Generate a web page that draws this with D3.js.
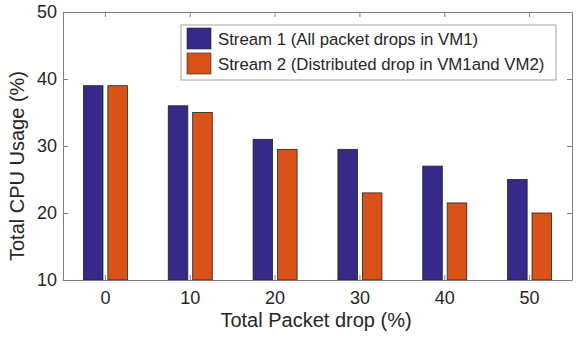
<!DOCTYPE html>
<html>
<head>
<meta charset="utf-8">
<script src="https://cdn.jsdelivr.net/npm/d3@7"></script>
<style>
  body { margin: 0; background: #fff; }
  text { font-family: "Liberation Sans", Arial, sans-serif; fill: #262626; }
</style>
</head>
<body>
<div id="chart"></div>
<script>
// chart data
const drops = ["0", "10", "20", "30", "40", "50"];
const stream1 = [39, 36, 31, 29.5, 27, 25];
const stream2 = [39, 35, 29.5, 23, 21.5, 20];
const yTicks = [10, 20, 30, 40, 50];
const seriesNames = ["Stream 1 (All packet drops in VM1)", "Stream 2 (Distributed drop in VM1and VM2)"];
const colors = ["#352a87", "#d95319"];

const svgWidth = 581;
const svgHeight = 338;
const margin = { top: 12, right: 9, bottom: 58, left: 63 };
const width = svgWidth - margin.left - margin.right;
const height = svgHeight - margin.top - margin.bottom;

const svg = d3.select("#chart").append("svg")
  .attr("width", svgWidth)
  .attr("height", svgHeight);

const g = svg.append("g")
  .attr("transform", `translate(${margin.left},${margin.top})`);

const x = d3.scaleBand().domain(drops).range([0, width]).padding(0);
const y = d3.scaleLinear().domain([10, 50]).range([height, 0]);
// two bars per group, small gap between them
const inner = d3.scaleBand().domain([0, 1]).range([-22, 22]).paddingInner(0.2);

// bars
const groups = g.selectAll(".grp")
  .data(drops)
  .enter().append("g")
  .attr("transform", d => `translate(${x(d) + x.bandwidth() / 2},0)`);

[stream1, stream2].forEach((vals, s) => {
  groups.append("rect")
    .attr("x", inner(s))
    .attr("width", inner.bandwidth())
    .attr("y", (d, i) => y(vals[i]))
    .attr("height", (d, i) => height - y(vals[i]))
    .attr("fill", colors[s])
    .attr("stroke", "#222")
    .attr("stroke-width", 0.8);
});

// axes (ticks inside, box all round)
const axColor = "#808080";
const styleAxis = sel => {
  sel.select(".domain").attr("stroke", axColor);
  sel.selectAll(".tick line").attr("stroke", axColor);
  sel.selectAll("text").style("font-size", "18px").attr("fill", "#262626");
};

g.append("g")
  .attr("transform", `translate(0,${height})`)
  .call(d3.axisBottom(x).tickSizeInner(-5).tickSizeOuter(0).tickPadding(11))
  .call(styleAxis);

g.append("g")
  .call(d3.axisTop(x).tickSizeInner(-5).tickSizeOuter(0).tickFormat(""))
  .call(styleAxis);

g.append("g")
  .call(d3.axisLeft(y).tickValues(yTicks).tickSizeInner(-5).tickSizeOuter(0).tickPadding(6))
  .call(styleAxis);

g.append("g")
  .attr("transform", `translate(${width},0)`)
  .call(d3.axisRight(y).tickValues(yTicks).tickSizeInner(-5).tickSizeOuter(0).tickFormat(""))
  .call(styleAxis);

// axis labels
svg.append("text")
  .attr("x", 316)
  .attr("y", 327)
  .attr("text-anchor", "middle")
  .style("font-size", "20px")
  .text("Total Packet drop (%)");

svg.append("text")
  .attr("transform", "translate(24,166) rotate(-90)")
  .attr("text-anchor", "middle")
  .style("font-size", "20px")
  .text("Total CPU Usage (%)");

// legend
const legend = svg.append("g").attr("transform", "translate(181,25)");
legend.append("rect")
  .attr("width", 375)
  .attr("height", 55)
  .attr("fill", "#fff")
  .attr("stroke", "#8c8c8c")
  .attr("stroke-width", 0.8);

seriesNames.forEach((name, i) => {
  legend.append("rect")
    .attr("x", 6)
    .attr("y", 3 + i * 25)
    .attr("width", 24)
    .attr("height", 21)
    .attr("fill", colors[i])
    .attr("stroke", "#222")
    .attr("stroke-width", 0.6);
  legend.append("text")
    .attr("x", 37)
    .attr("y", 19.5 + i * 25)
    .style("font-size", "16.8px")
    .text(name);
});
</script>
</body>
</html>
